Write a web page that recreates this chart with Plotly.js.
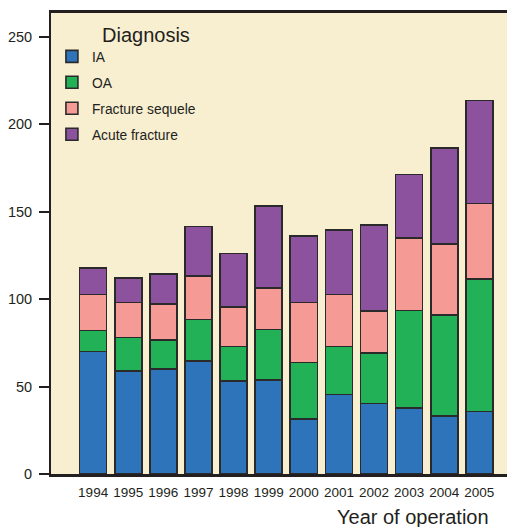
<!DOCTYPE html>
<html>
<head>
<meta charset="utf-8">
<script src="https://cdn.plot.ly/plotly-3.0.1.min.js"></script>
<style>
html,body{margin:0;padding:0;overflow:hidden;background:#fff;}
#chart{width:512px;height:527px;}
</style>
</head>
<body>
<div id="chart"></div>
<script>
// Data
var years = ["1994","1995","1996","1997","1998","1999","2000","2001","2002","2003","2004","2005"];
var ia = [70, 59, 60, 64.5, 53, 53.7, 31.3, 45.5, 40.2, 37.7, 33.2, 35.8];
var oa = [12, 19, 16.5, 23.7, 19.8, 28.9, 32.5, 27.3, 28.9, 55.8, 57.6, 75.8];
var fractureSequele = [20.6, 20.1, 20.6, 25.1, 22.6, 23.6, 34.3, 29.7, 24.2, 41.5, 40.5, 43.1];
var acuteFracture = [15.3, 14.1, 17.1, 28.1, 30.6, 47.1, 37.8, 37.1, 48.9, 36.1, 55.1, 58.7];
var seriesNames = ["IA", "OA", "Fracture sequele", "Acute fracture"];
var seriesColors = ["#2E74BA", "#22B157", "#F59A95", "#8C529E"];
var yTicks = [0, 50, 100, 150, 200, 250];

var seriesValues = [ia, oa, fractureSequele, acuteFracture];
var traces = seriesValues.map(function(vals, i){
  return {
    type: "bar",
    x: years,
    y: vals,
    name: seriesNames[i],
    legendgroup: "g" + i,
    marker: {color: seriesColors[i], line: {color: "#2a2a2a", width: 1.6}},
    hoverinfo: "x+y+name"
  };
});

var layout = {
  width: 512,
  height: 527,
  barmode: "stack",
  bargap: 0.23,
  paper_bgcolor: "#ffffff",
  plot_bgcolor: "#F8EED0",
  margin: {l: 51, r: 0, t: 13, b: 53},
  font: {family: "Arial, 'Liberation Sans', sans-serif", color: "#231f20"},
  showlegend: true,
  legend: {
    x: 0.002, xanchor: "left",
    y: 0.9395, yanchor: "top",
    bgcolor: "rgba(0,0,0,0)",
    font: {size: 13.8, color: "#231f20"},
    traceorder: "grouped",
    tracegroupgap: 5
  },
  xaxis: {
    type: "category",
    range: [-1.2, 11.93],
    showline: true, linecolor: "#231f20", linewidth: 3,
    mirror: true,
    ticks: "",
    showgrid: false,
    zeroline: false,
    tickfont: {size: 13.5, color: "#231f20"},
    ticklabelstandoff: 4,
    fixedrange: true
  },
  yaxis: {
    range: [0, 263.5],
    tickvals: yTicks,
    ticktext: yTicks.map(String),
    showline: true, linecolor: "#231f20", linewidth: 2,
    mirror: true,
    ticks: "outside", ticklen: 10, tickwidth: 1.5, tickcolor: "#231f20",
    showgrid: false,
    zeroline: false,
    tickfont: {size: 14.5, color: "#231f20"},
    ticklabelstandoff: 4,
    fixedrange: true
  },
  annotations: [
    {
      text: "Diagnosis", showarrow: false,
      xref: "paper", yref: "paper",
      x: (100 - 51) / 461, xanchor: "left",
      y: (473.5 - 35) / 460.5, yanchor: "middle",
      font: {size: 20, color: "#231f20"}
    },
    {
      text: "Year of operation", showarrow: false,
      xref: "paper", yref: "paper",
      x: (491 - 51) / 461, xanchor: "right",
      y: (473.5 - 516) / 460.5, yanchor: "middle",
      font: {size: 20, color: "#231f20"}
    }
  ]
};

Plotly.newPlot("chart", traces, layout, {displayModeBar: false, staticPlot: false});
</script>
</body>
</html>
